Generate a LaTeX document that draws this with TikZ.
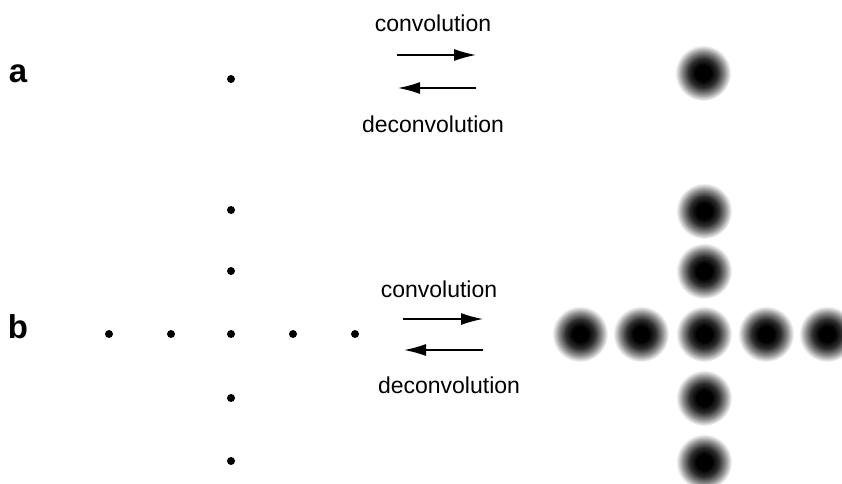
\documentclass[tikz,border=0pt]{standalone}
\usepackage{fontspec}
\setmainfont{Liberation Sans}
\usetikzlibrary{arrows.meta}
\pgfdeclareradialshading{blob}{\pgfpoint{0bp}{0bp}}{color(0bp)=(black); color(7bp)=(black); color(13bp)=(black!82); color(19bp)=(black!45); color(25bp)=(white); color(50bp)=(white)}
\tikzset{
  dot/.style={circle, fill=black, inner sep=0pt, minimum size=8pt},
  blob/.style={circle, shading=blob, inner sep=0pt, minimum size=56pt},
  lbl/.style={font=\fontsize{23}{26}\selectfont},
  tag/.style={font=\fontsize{33}{36}\selectfont\bfseries},
  conv/.style={line width=1.5pt, -{Latex[length=22pt,width=12pt]}},
}
\begin{document}
\begin{tikzpicture}[x=1pt,y=-1pt]
\useasboundingbox[fill=white] (0,0) rectangle (842,483);
% labels
\node[tag] (ta) at (18,74) {a};
\node[tag] (tb) at (18,327) {b};
% row a
\node[dot] (pa) at (231,79) {};
\node[blob] (ba) at (703,73) {};
\node[lbl] (ca) at (433,23) {convolution};
\node[lbl] (da) at (433,124) {deconvolution};
\coordinate (a1) at (397,55); \coordinate (a2) at (476,55);
\coordinate (a3) at (476,88); \coordinate (a4) at (398,88);
\draw[conv] (a1) -- (a2);
\draw[conv] (a3) -- (a4);
% row b dots
\foreach \y/\n in {210/1,271/2,334/3,398/4,461/5} \node[dot] (pc\n) at (231,\y) {};
\foreach \x/\n in {109/1,171/2,293/4,355/5} \node[dot] (pr\n) at (\x,334) {};
% row b blobs
\foreach \y/\n in {211/1,271/2,334/3,398/4,462/5} \node[blob] (bc\n) at (704,\y) {};
\foreach \x/\n in {580/1,641/2,766/4,827/5} \node[blob] (br\n) at (\x,334) {};
\node[lbl] (cb) at (439,289) {convolution};
\node[lbl] (db) at (449,385) {deconvolution};
\coordinate (b1) at (403,319); \coordinate (b2) at (483,319);
\coordinate (b3) at (483,350); \coordinate (b4) at (404,350);
\draw[conv] (b1) -- (b2);
\draw[conv] (b3) -- (b4);
\end{tikzpicture}
\end{document}
